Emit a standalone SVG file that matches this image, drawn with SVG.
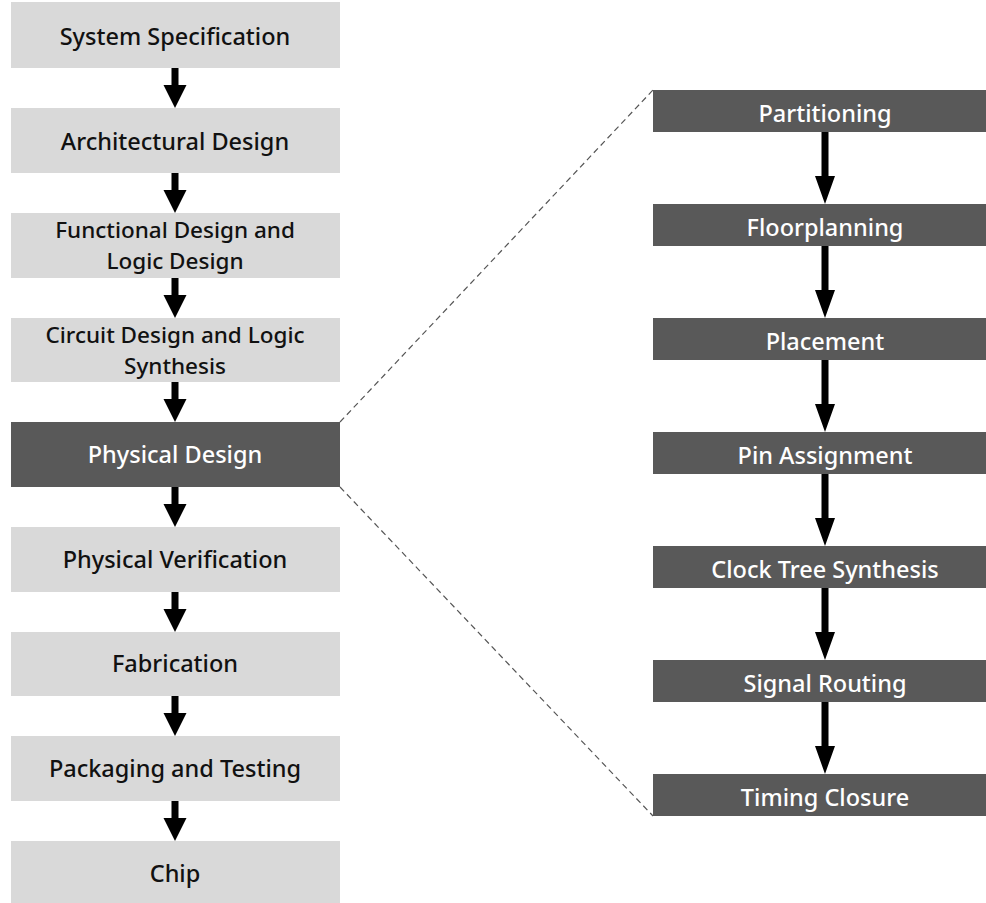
<svg xmlns="http://www.w3.org/2000/svg" width="986" height="903" viewBox="0 0 986 903">
<style>
.l{fill:#d9d9d9}
.d{fill:#595959}
.t{font-family:"Noto Sans","Open Sans","Liberation Sans",sans-serif;font-size:23.5px;font-weight:500;text-anchor:middle}
.t2{font-size:22.5px}
.tb{fill:#111}
.tw{fill:#fff}
.dash{stroke:#555;stroke-width:1.2;stroke-dasharray:6 4;fill:none}
</style>
<defs>
<path id="la" d="M-3.5,0 V17 H-11.5 L0,40 L11.5,17 H3.5 V0 Z" fill="#000"/>
<path id="ra" d="M-3.5,0 V44 H-10 L0,72 L10,44 H3.5 V0 Z" fill="#000"/>
</defs>
<rect width="986" height="903" fill="#fff"/>
<g id="connectors">
<use href="#la" x="175" y="68"/>
<use href="#la" x="175" y="173"/>
<use href="#la" x="175" y="278"/>
<use href="#la" x="175" y="382"/>
<use href="#la" x="175" y="487"/>
<use href="#la" x="175" y="592"/>
<use href="#la" x="175" y="696"/>
<use href="#la" x="175" y="801"/>
<use href="#ra" x="825" y="132"/>
<use href="#ra" x="825" y="246"/>
<use href="#ra" x="825" y="360"/>
<use href="#ra" x="825" y="474"/>
<use href="#ra" x="825" y="588"/>
<use href="#ra" x="825" y="702"/>
<line class="dash" x1="340" y1="422" x2="653" y2="90"/>
<line class="dash" x1="340" y1="487" x2="653" y2="816"/>
</g>
<g id="n1"><rect class="l" x="11" y="2" width="329" height="66"/><text class="t tb" x="175" y="45">System Specification</text></g>
<g id="n2"><rect class="l" x="11" y="108" width="329" height="65"/><text class="t tb" x="175" y="150">Architectural Design</text></g>
<g id="n3"><rect class="l" x="11" y="213" width="329" height="65"/><text class="t t2 tb" x="175" y="238">Functional Design and</text><text class="t t2 tb" x="175" y="269">Logic Design</text></g>
<g id="n4"><rect class="l" x="11" y="318" width="329" height="64"/><text class="t t2 tb" x="175" y="343">Circuit Design and Logic</text><text class="t t2 tb" x="175" y="374">Synthesis</text></g>
<g id="n5"><rect class="d" x="11" y="422" width="329" height="65"/><text class="t tw" x="175" y="463">Physical Design</text></g>
<g id="n6"><rect class="l" x="11" y="527" width="329" height="65"/><text class="t tb" x="175" y="568">Physical Verification</text></g>
<g id="n7"><rect class="l" x="11" y="632" width="329" height="64"/><text class="t tb" x="175" y="672">Fabrication</text></g>
<g id="n8"><rect class="l" x="11" y="736" width="329" height="65"/><text class="t tb" x="175" y="777">Packaging and Testing</text></g>
<g id="n9"><rect class="l" x="11" y="841" width="329" height="62"/><text class="t tb" x="175" y="882">Chip</text></g>
<g id="r1"><rect class="d" x="653" y="90" width="333" height="42"/><text class="t tw" x="825" y="122">Partitioning</text></g>
<g id="r2"><rect class="d" x="653" y="204" width="333" height="42"/><text class="t tw" x="825" y="236">Floorplanning</text></g>
<g id="r3"><rect class="d" x="653" y="318" width="333" height="42"/><text class="t tw" x="825" y="350">Placement</text></g>
<g id="r4"><rect class="d" x="653" y="432" width="333" height="42"/><text class="t tw" x="825" y="464">Pin Assignment</text></g>
<g id="r5"><rect class="d" x="653" y="546" width="333" height="42"/><text class="t tw" x="825" y="578">Clock Tree Synthesis</text></g>
<g id="r6"><rect class="d" x="653" y="660" width="333" height="42"/><text class="t tw" x="825" y="692">Signal Routing</text></g>
<g id="r7"><rect class="d" x="653" y="774" width="333" height="42"/><text class="t tw" x="825" y="806">Timing Closure</text></g>
</svg>
